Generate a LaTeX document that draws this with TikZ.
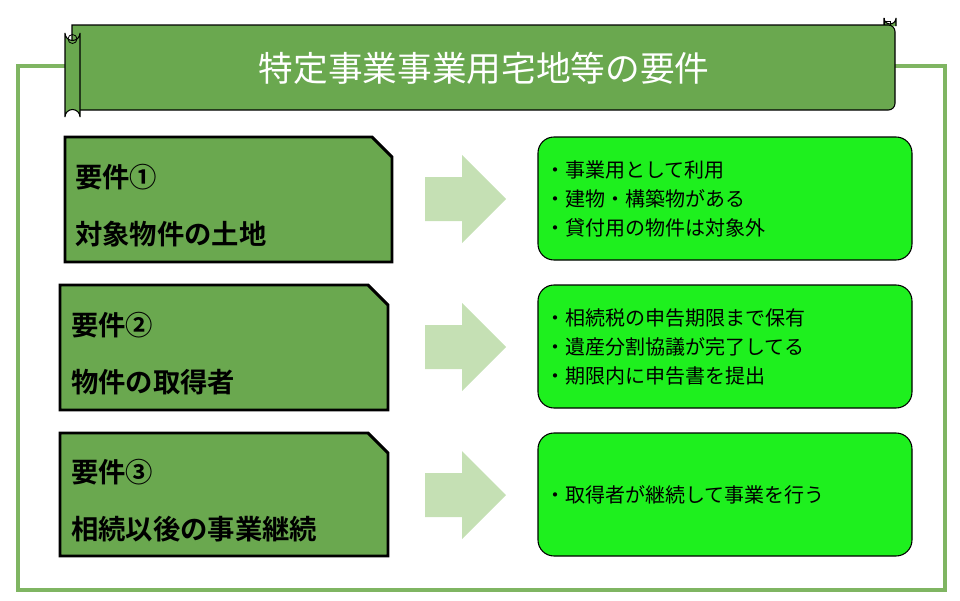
\documentclass[tikz,border=0pt]{standalone}
\usepackage{fontspec}
\newfontfamily\jp{Noto Sans CJK JP}
\newfontfamily\jpb{Noto Sans CJK JP Bold}
\begin{document}
\begin{tikzpicture}[x=0.75pt,y=-0.75pt,
  lbox/.style={draw=black,line width=2.2pt,fill=boxg},
  rbox/.style={draw=black,line width=0.8pt,fill=brg,rounded corners=12pt},
  arr/.style={fill=arrg,draw=none},
  ltext/.style={font=\jpb\fontsize{20.5}{20.5}\selectfont,anchor=west,inner sep=0},
  rtext/.style={font=\jp\fontsize{15}{22}\selectfont,anchor=west,align=left,inner sep=0}]
\definecolor{boxg}{HTML}{6AA84F}
\definecolor{brg}{HTML}{1EF01E}
\definecolor{arrg}{HTML}{C5E0B4}
\definecolor{frameg}{HTML}{7FB562}
\useasboundingbox (0,0) rectangle (960,600);
\draw[frameg,line width=2.5pt] (18,66) rectangle (945,590);
% banner
\draw[fill=boxg,line width=0.8pt] (884,26) -- (884,18) arc(180:0:6) -- (896,26);
\draw[fill=boxg,line width=0.8pt,rounded corners=5pt] (72,25) -- (895,25) -- (895,110) -- (72,110) [sharp corners]-- cycle;
\draw[line width=0.6pt] (884,18) -- (884,25) (884,21) -- (890,21) -- (890,25);
\node[font=\jp\fontsize{26}{26}\selectfont,text=white] (title) at (484,68) {特定事業事業用宅地等の要件};
\draw[fill=boxg,line width=0.8pt] (65,33) arc(180:0:7.5) -- (80,117) arc(0:-180:7.5) -- cycle;
\draw[line width=0.6pt] (72.5,39) circle (4.5);
% left boxes
\draw[lbox] (65,137) -- (372,137) -- (392,157) -- (392,262) -- (65,262) -- cycle;
\draw[lbox] (60,285) -- (368,285) -- (388,305) -- (388,410) -- (60,410) -- cycle;
\draw[lbox] (60,433) -- (368,433) -- (388,453) -- (388,556) -- (60,556) -- cycle;
\node[ltext] (l1a) at (75,177) {要件①};
\node[ltext] (l1b) at (75,234) {対象物件の土地};
\node[ltext] (l2a) at (71,325) {要件②};
\node[ltext] (l2b) at (71,382) {物件の取得者};
\node[ltext] (l3a) at (71,472) {要件③};
\node[ltext] (l3b) at (71,529) {相続以後の事業継続};
% arrows
\foreach \c in {199,347,495}{
  \fill[arr] (425,\c-22) -- (462,\c-22) -- (462,\c-44) -- (506,\c) -- (462,\c+44) -- (462,\c+22) -- (425,\c+22) -- cycle;}
% right boxes
\draw[rbox] (538,137) rectangle (912,260);
\draw[rbox] (538,285) rectangle (912,408);
\draw[rbox] (538,433) rectangle (912,556);
\node[rtext] (r1) at (545,199) {・事業用として利用\\・建物・構築物がある\\・貸付用の物件は対象外};
\node[rtext] (r2) at (545,347) {・相続税の申告期限まで保有\\・遺産分割協議が完了してる\\・期限内に申告書を提出};
\node[rtext] (r3) at (545,495) {・取得者が継続して事業を行う};
\end{tikzpicture}
\end{document}
